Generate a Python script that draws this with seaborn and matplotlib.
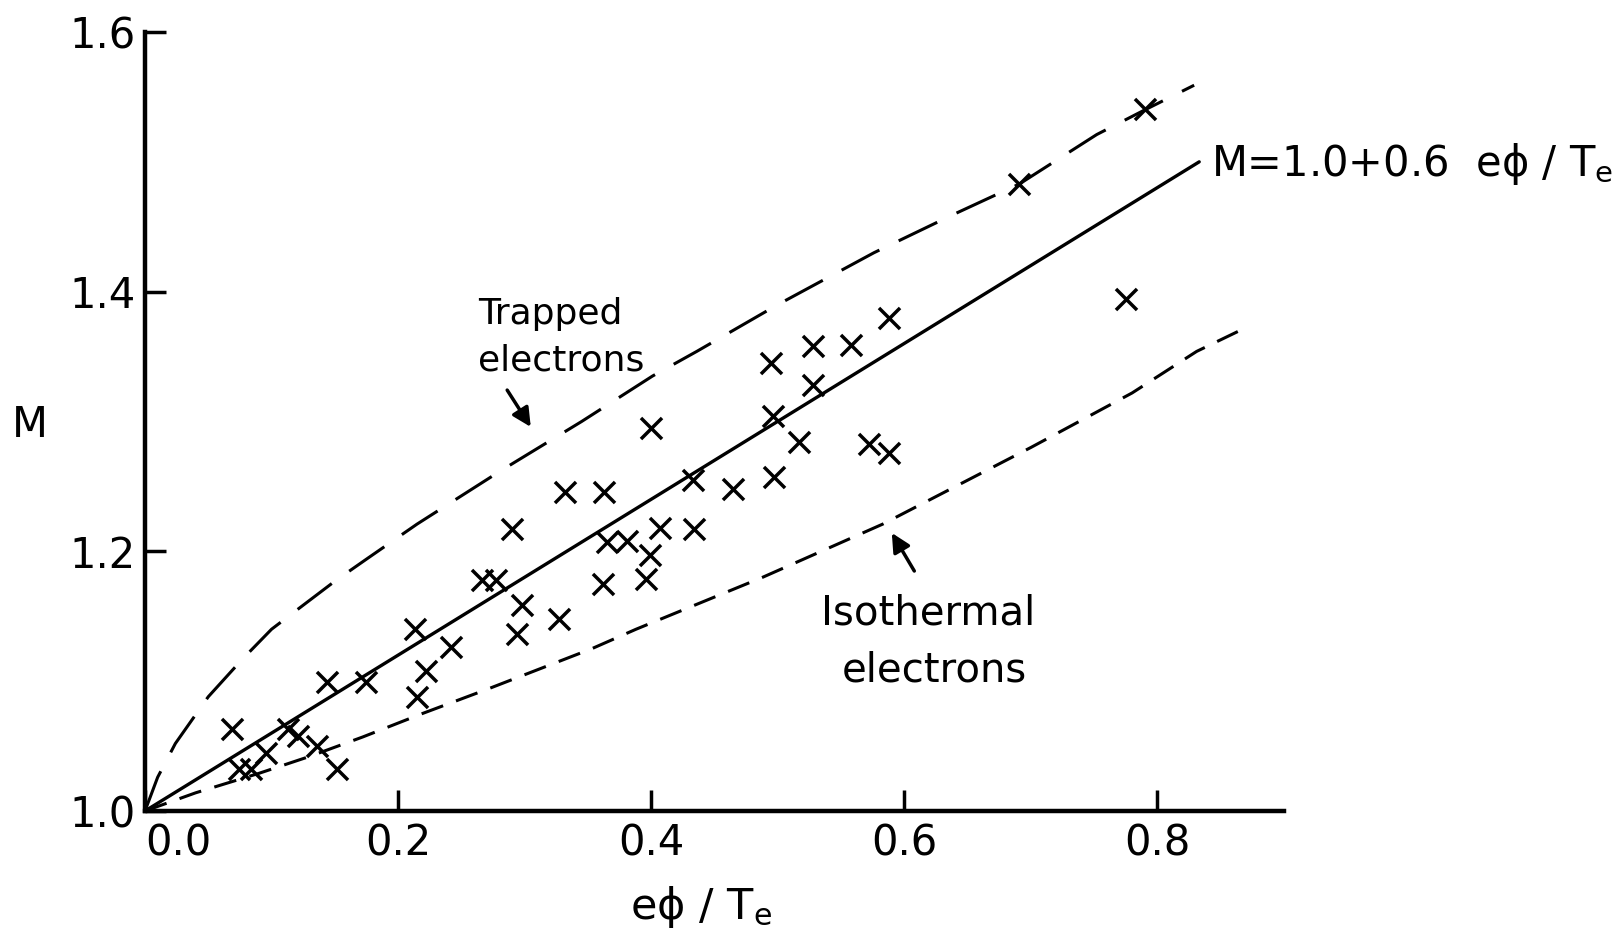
import matplotlib
matplotlib.use("Agg")
import matplotlib.pyplot as plt
import seaborn as sns
import numpy as np
import pandas as pd

# ---- data ----
phi_data = [0.069, 0.074, 0.084, 0.096, 0.113, 0.121, 0.136, 0.152, 0.144, 0.175,
            0.213, 0.222, 0.215, 0.242, 0.266, 0.277, 0.290, 0.298, 0.294, 0.327,
            0.332, 0.363, 0.362, 0.365, 0.381, 0.396, 0.399, 0.407, 0.400, 0.434,
            0.433, 0.465, 0.495, 0.496, 0.497, 0.517, 0.528, 0.528, 0.558, 0.572,
            0.588, 0.588, 0.691, 0.790, 0.775]
M_data = [1.063, 1.032, 1.032, 1.045, 1.063, 1.058, 1.050, 1.032, 1.099, 1.099,
          1.140, 1.108, 1.088, 1.126, 1.178, 1.178, 1.217, 1.159, 1.136, 1.148,
          1.246, 1.246, 1.175, 1.207, 1.208, 1.179, 1.197, 1.218, 1.295, 1.217,
          1.255, 1.248, 1.345, 1.304, 1.257, 1.284, 1.358, 1.328, 1.359, 1.283,
          1.276, 1.380, 1.483, 1.541, 1.394]

fit_phi = [0.0, 0.833]
fit_M = [1.0, 1.500]

trapped_phi = [0.0, 0.010, 0.024, 0.050, 0.077, 0.100, 0.127, 0.150, 0.175, 0.215,
               0.281, 0.345, 0.401, 0.436, 0.500, 0.576, 0.640, 0.691, 0.752,
               0.790, 0.829]
trapped_M = [1.0, 1.026, 1.052, 1.088, 1.117, 1.140, 1.160, 1.177, 1.194, 1.221,
             1.262, 1.300, 1.335, 1.354, 1.390, 1.430, 1.460, 1.483, 1.521,
             1.540, 1.559]

iso_phi = [0.0, 0.040, 0.090, 0.130, 0.172, 0.219, 0.271, 0.353, 0.388, 0.488,
           0.583, 0.700, 0.780, 0.831, 0.865]
iso_M = [1.0, 1.014, 1.029, 1.042, 1.057, 1.075, 1.094, 1.125, 1.140, 1.180,
         1.221, 1.280, 1.322, 1.354, 1.370]

x_ticks = [0.0, 0.2, 0.4, 0.6, 0.8]
x_ticklabels = ["0.0", "0.2", "0.4", "0.6", "0.8"]
y_ticks = [1.0, 1.2, 1.4, 1.6]
y_ticklabels = ["1.0", "1.2", "1.4", "1.6"]

# ---- styling ----
sns.set_theme(style="ticks")
plt.rcParams["font.family"] = ["DejaVu Sans"]
plt.rcParams["mathtext.fontset"] = "dejavusans"
plt.rcParams["text.color"] = "black"
plt.rcParams["axes.labelcolor"] = "black"
plt.rcParams["xtick.color"] = "black"
plt.rcParams["ytick.color"] = "black"
plt.rcParams["xtick.labelcolor"] = "black"
plt.rcParams["ytick.labelcolor"] = "black"

fig = plt.figure(figsize=(16.17, 9.32), dpi=100)
ax = fig.add_axes([145 / 1617, 1 - 811 / 932, (1284 - 145) / 1617, (811 - 32) / 932])

df_pts = pd.DataFrame({"phi": phi_data, "M": M_data})
df_fit = pd.DataFrame({"phi": fit_phi, "M": fit_M})
df_tr = pd.DataFrame({"phi": trapped_phi, "M": trapped_M})
df_iso = pd.DataFrame({"phi": iso_phi, "M": iso_M})

sns.lineplot(data=df_fit, x="phi", y="M", ax=ax, color="black", linewidth=2.4,
             estimator=None, sort=False)
sns.lineplot(data=df_tr, x="phi", y="M", ax=ax, color="black", linewidth=2.2,
             estimator=None, sort=False, linestyle=(0, (14, 7)))
sns.lineplot(data=df_iso, x="phi", y="M", ax=ax, color="black", linewidth=2.2,
             estimator=None, sort=False, linestyle=(0, (7.5, 4.5)))
sns.scatterplot(data=df_pts, x="phi", y="M", ax=ax, marker="x", color="black",
                s=230, linewidth=2.5, zorder=5)

ax.set_xlim(0.0, 0.9)
ax.set_ylim(1.0, 1.6)
ax.set_xticks(x_ticks)
ax.set_xticklabels(x_ticklabels)
ax.set_yticks(y_ticks)
ax.set_yticklabels(y_ticklabels)
ax.tick_params(direction="in", length=15, width=2.5, labelsize=30, pad=8,
               color="black", labelcolor="black")
ax.tick_params(axis="y", pad=7)
for lab in ax.get_xticklabels()[:1]:
    lab.set_horizontalalignment("left")

sns.despine(ax=ax)
for s in ["left", "bottom"]:
    ax.spines[s].set_linewidth(3.2)
    ax.spines[s].set_color("black")

ax.set_xlabel("eϕ / T$_\\mathrm{e}$", fontsize=31)
ax.set_ylabel("M", fontsize=30, rotation=0)
ax.xaxis.set_label_coords(0.488, -0.123)
ax.xaxis.label.set_verticalalignment("center")
ax.yaxis.set_label_coords(-0.101, 0.495)
ax.yaxis.label.set_verticalalignment("center")
ax.yaxis.label.set_horizontalalignment("center")

# annotations
ax.text(0.32, 1.383, "Trapped", fontsize=26, ha="center", va="center")
ax.text(0.329, 1.347, "electrons", fontsize=26, ha="center", va="center")
ax.annotate("", xy=(0.306, 1.294), xytext=(0.285, 1.326),
            arrowprops=dict(arrowstyle="-|>", color="black", lw=2.5, mutation_scale=28))

ax.text(0.619, 1.152, "Isothermal", fontsize=29, ha="center", va="center")
ax.text(0.624, 1.108, "electrons", fontsize=29, ha="center", va="center")
ax.annotate("", xy=(0.589, 1.216), xytext=(0.609, 1.183),
            arrowprops=dict(arrowstyle="-|>", color="black", lw=2.5, mutation_scale=28))

ax.text(0.842, 1.498, "M=1.0+0.6  eϕ / T$_\\mathrm{e}$", fontsize=30,
        ha="left", va="center", clip_on=False)

fig.savefig("out.png", dpi=100, facecolor="white")
